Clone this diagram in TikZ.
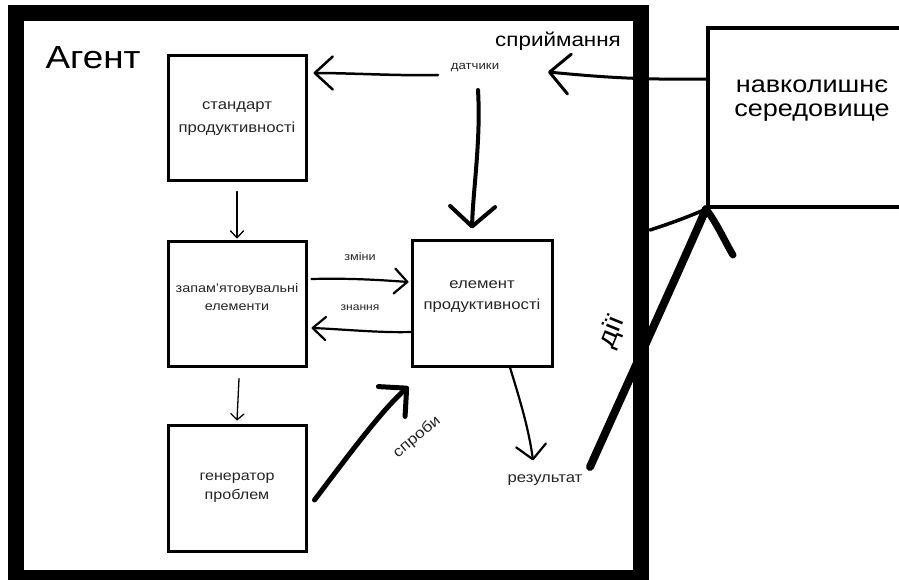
\documentclass[tikz,border=0pt]{standalone}
\usepackage{fontspec}
\setmainfont[FakeStretch=1.15]{Liberation Sans}
\usetikzlibrary{arrows.meta}
\newcommand{\fs}[2]{\fontsize{#1}{#2}\selectfont}
\begin{document}
\begin{tikzpicture}[x=1pt,y=-1pt,
  line cap=round, line join=round,
  block/.style={draw, line width=3pt, line join=miter, minimum width=138pt, minimum height=125pt,
    inner sep=0pt, align=center, text=black!85, font=\fs{14.5}{21}},
  inlabel/.style={label={[align=center, text=black!85, inner sep=0pt, yshift=#1]center:}},
  lbl/.style={inner sep=0pt, text=black!85},
  barb/.style 2 args={-{Straight Barb[length=#1,width=#2,round]}}
]
\useasboundingbox (0,0) rectangle (899,580);
\fill[white] (0,0) rectangle (899,580);

% agent boundary
\node[draw, line width=16pt, line join=miter, minimum width=625pt, minimum height=565pt, inner sep=0pt] (agent) at (328.5,295.5) {};
\node[lbl, text=black, font=\fs{32}{36}] (agenttitle) at (93,58) {Агент};

% internal blocks
\node[block, font=\fs{14.5}{23}] (s1) at (237,118.5) {стандарт\\продуктивності};
\node[block, label={[align=center, text=black!85, inner sep=0pt, yshift=6pt, font=\fs{12.5}{18}]center:запам'ятовувальні\\елементи}] (m) at (237,303.5) {};
\node[block, minimum height=126pt, font=\fs{14}{19}] (g) at (237,488) {генератор\\проблем};
\node[block, minimum width=140pt, minimum height=126pt, label={[align=center, text=black!85, inner sep=0pt, yshift=6pt, font=\fs{14.5}{21}]center:елемент\\продуктивності}] (e) at (482,303) {};

% environment
\node[draw, line width=4pt, line join=miter, minimum width=202pt, minimum height=179pt, inner sep=0pt] (env) at (809,117.5) {};
\node[lbl, text=black, align=center, font=\fs{23.5}{24}] (envtext) at (812,101) {навколишнє\\середовище};

% labels
\node[lbl, text=black, font=\fs{19.5}{22}] (percept) at (558,41) {сприймання};
\node[lbl, font=\fs{11.5}{13}] (sens) at (475,68) {датчики};
\node[lbl, font=\fs{11}{13}] (chg) at (360,257) {зміни};
\node[lbl, font=\fs{10.5}{13}] (know) at (360,308) {знання};
\node[lbl, font=\fs{14.5}{17}] (res) at (545,480) {результат};
\node[lbl, font=\fs{15}{17}, rotate=40] (tries) at (417,437) {спроби};
\node[lbl, text=black, font=\fs{26}{28}, rotate=68] (acts) at (612,332) {дії};

% free connector ends
\coordinate (pin) at (548,72);
\coordinate (sl) at (438,75);
\coordinate (sd) at (478,90);
\coordinate (astart) at (590,467);
\coordinate (armL) at (650,230);
\coordinate (armR) at (733,255);

% perception: environment -> sensors
\draw[line width=3pt, barb={20pt}{40pt}] ([yshift=38.5pt]env.west)
  .. controls (640,80) and (600,77) .. (pin);
% sensors -> performance standard
\draw[line width=2.5pt, barb={18pt}{33pt}] (sl)
  .. controls (400,76) and (350,73) .. ([xshift=6pt,yshift=45.5pt]s1.east);
% sensors -> performance element
\draw[line width=4pt, barb={20pt}{45pt}] (sd)
  .. controls (481,140) and (473,190) .. ([xshift=-10pt,yshift=10pt]e.north);
% changes / knowledge
\draw[line width=2.2pt, barb={13pt}{25pt}] ([xshift=4pt,yshift=24.5pt]m.east)
  .. controls (350,278) and (380,280) .. ([xshift=-2pt,yshift=21pt]e.west);
\draw[line width=2.2pt, barb={13pt}{23pt}] ([yshift=-29pt]e.west)
  .. controls (380,333) and (340,329) .. ([xshift=4pt,yshift=-24.5pt]m.east);
% vertical flow on the left
\draw[line width=1.3pt, barb={7pt}{13pt}] ([yshift=-9pt]s1.south) -- ([yshift=1pt]m.north);
\draw[line width=1.3pt, barb={6pt}{13pt}] ([xshift=2pt,yshift=-11pt]m.south) -- ([yshift=3pt]g.north);
% problem generator -> performance element
\draw[line width=5pt, barb={20pt}{40pt}] ([xshift=7pt,yshift=-12pt]g.east)
  .. controls (345,460) and (380,412) .. ([xshift=-2pt,yshift=-19pt]e.south west);
% performance element -> result
\draw[line width=2.2pt, barb={14pt}{30pt}] ([xshift=28pt]e.south)
  .. controls (520,400) and (529,430) .. ([xshift=-12pt,yshift=14pt]res.north);
% actions -> environment
\draw[line width=8pt] (astart) .. controls (620,400) and (675,280) .. (env.south west);
\draw[line width=3.5pt] (armL) .. controls (675,222) and (695,214) .. (env.south west);
\draw[line width=7pt] (env.south west) .. controls (718,225) and (725,242) .. (armR);
\end{tikzpicture}
\end{document}
